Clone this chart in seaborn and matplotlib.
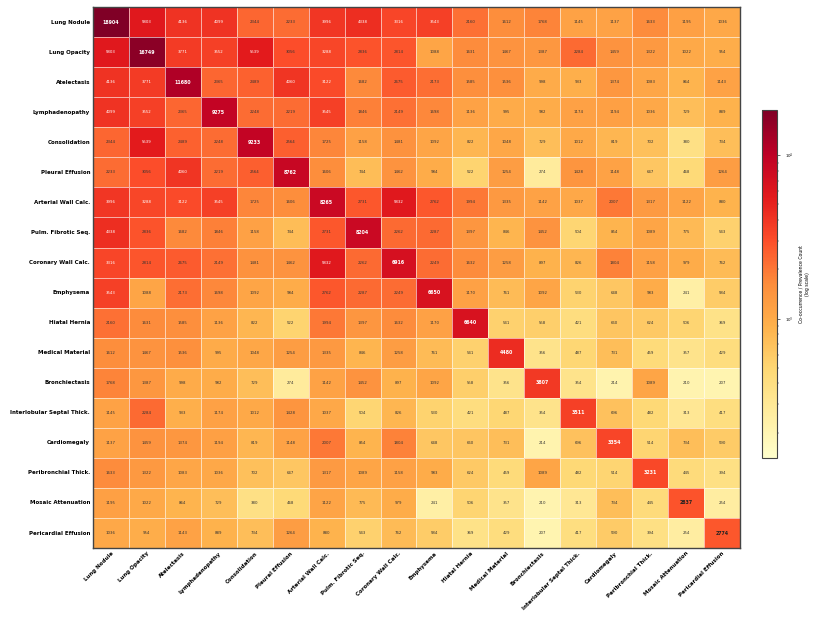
import numpy as np
import pandas as pd
import seaborn as sns
import matplotlib.pyplot as plt
from matplotlib.colors import LogNorm

labels = ["Lung Nodule", "Lung Opacity", "Atelectasis", "Lymphadenopathy",
          "Consolidation", "Pleural Effusion", "Arterial Wall Calc.",
          "Pulm. Fibrotic Seq.", "Coronary Wall Calc.", "Emphysema",
          "Hiatal Hernia", "Medical Material", "Bronchiectasis",
          "Interlobular Septal Thick.", "Cardiomegaly", "Peribronchial Thick.",
          "Mosaic Attenuation", "Pericardial Effusion"]

counts = [
    [18904, 5803, 4136, 4099, 2344, 2233, 3996, 4338, 3316, 3543, 2160, 1612, 1768, 1145, 1137, 1633, 1195, 1036],
    [5803, 16749, 3771, 3552, 5539, 3056, 3288, 2836, 2814, 1088, 1631, 1467, 1387, 2284, 1459, 1322, 1022, 954],
    [4136, 3771, 11680, 2365, 2489, 4060, 3122, 1682, 2675, 2173, 1585, 1536, 998, 933, 1374, 1083, 864, 1143],
    [4099, 3552, 2365, 9275, 2248, 2219, 3545, 1846, 2149, 1698, 1136, 995, 982, 1174, 1194, 1036, 729, 889],
    [2344, 5539, 2489, 2248, 9233, 2564, 1725, 1158, 1481, 1092, 822, 1048, 729, 1012, 819, 702, 380, 734],
    [2233, 3056, 4060, 2219, 2564, 8762, 1606, 744, 1462, 984, 522, 1254, 274, 1428, 1148, 647, 468, 1264],
    [3996, 3288, 3122, 3545, 1725, 1606, 8265, 2731, 5832, 2762, 1994, 1335, 1142, 1037, 2007, 1317, 1122, 880],
    [4338, 2836, 1682, 1846, 1158, 744, 2731, 8204, 2262, 2287, 1397, 846, 1452, 504, 854, 1089, 775, 543],
    [3316, 2814, 2675, 2149, 1481, 1462, 5832, 2262, 6916, 2249, 1632, 1258, 897, 826, 1804, 1158, 979, 762],
    [3543, 1088, 2173, 1698, 1092, 984, 2762, 2287, 2249, 6650, 1170, 761, 1092, 530, 648, 983, 241, 584],
    [2160, 1631, 1585, 1136, 822, 522, 1994, 1397, 1632, 1170, 6640, 541, 558, 421, 660, 624, 506, 369],
    [1612, 1467, 1536, 995, 1048, 1254, 1335, 846, 1258, 761, 541, 4480, 356, 487, 731, 459, 357, 429],
    [1768, 1387, 998, 982, 729, 274, 1142, 1452, 897, 1092, 558, 356, 3807, 354, 214, 1089, 210, 207],
    [1145, 2284, 933, 1174, 1012, 1428, 1037, 504, 826, 530, 421, 487, 354, 3511, 696, 482, 313, 417],
    [1137, 1459, 1374, 1194, 819, 1148, 2007, 854, 1804, 648, 660, 731, 214, 696, 3354, 514, 734, 590],
    [1633, 1322, 1083, 1036, 702, 647, 1317, 1089, 1158, 983, 624, 459, 1089, 482, 514, 3231, 445, 394],
    [1195, 1022, 864, 729, 380, 468, 1122, 775, 979, 241, 506, 357, 210, 313, 734, 445, 2837, 254],
    [1036, 954, 1143, 889, 734, 1264, 880, 543, 762, 584, 369, 429, 207, 417, 590, 394, 254, 2774],
]

df = pd.DataFrame(counts, index=labels, columns=labels)

fig = plt.figure(figsize=(8.15, 6.44), dpi=100)
ax = fig.add_axes([0.114, 0.149, 0.794, 0.840])
cax = fig.add_axes([0.935, 0.289, 0.0184, 0.540])

norm = LogNorm(vmin=140, vmax=df.values.max())
sns.heatmap(df, ax=ax, cbar_ax=cax, cmap="YlOrRd", norm=norm,
            annot=True, fmt="d", linewidths=0.5, linecolor=(1, 1, 1, 0.6),
            annot_kws={"fontsize": 2.8})

n = len(labels)
for k, t in enumerate(ax.texts):
    i, j = divmod(k, n)
    v = counts[i][j]
    if i == j:
        t.set_fontweight("bold")
        t.set_fontsize(3.4)
        t.set_color("white" if v > 3000 else "#222222")
    else:
        t.set_color("white" if v > 3100 else "#333333")

ax.tick_params(length=0, pad=2)
ax.set_xticklabels(labels, rotation=45, ha="right", rotation_mode="anchor",
                   fontsize=4, fontweight="bold")
ax.set_yticklabels(labels, rotation=0, fontsize=4, fontweight="bold")
ax.set_xlabel("")
ax.set_ylabel("")
for s in ax.spines.values():
    s.set_visible(True)
    s.set_color("#444444")
    s.set_linewidth(1.0)

cax.tick_params(labelsize=2.8, length=2, width=0.4)
cax.tick_params(which="minor", length=1.2, width=0.3)
cax.set_ylabel("Co-occurrence / Prevalence Count\n(log scale)", fontsize=3.3,
               rotation=90, labelpad=4)
cb = ax.collections[0].colorbar
cb.outline.set_edgecolor("#444444")
cb.outline.set_linewidth(0.8)

fig.savefig("out.png", dpi=100)
